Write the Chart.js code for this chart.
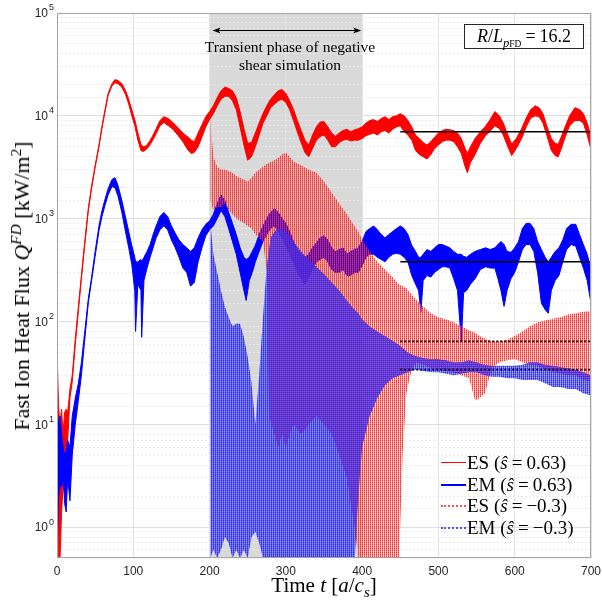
<!DOCTYPE html>
<html>
<head>
<meta charset="utf-8">
<script src="https://cdn.jsdelivr.net/npm/chart.js@4.4.1/dist/chart.umd.min.js"></script>
<style>
  html, body { margin: 0; padding: 0; background: #fff; }
  #wrap { position: relative; width: 602px; height: 600px; font-family: 'Liberation Serif', 'DejaVu Serif', serif; color: #000; }
  #chart { position: absolute; left: 0; top: 0; }
  .ov { position: absolute; white-space: nowrap; }
  sup, sub { font-size: 70%; line-height: 0; }
  .eq { margin: 0 4px; }
  #note { left: 190px; top: 38px; width: 200px; text-align: center; font-size: 15.5px; line-height: 17.5px; }
  #ratio { left: 464px; top: 24px; width: 120px; height: 25px; box-sizing: border-box; border: 1px solid #262626; background: #fff; text-align: center; font-size: 18px; line-height: 22px; }
  #ytitle { left: 22px; top: 286px; font-size: 22px; transform: translate(-50%, -50%) rotate(-90deg); }
  #xtitle { left: 324px; top: 585px; font-size: 21px; transform: translate(-50%, -50%); }
  #legend { left: 441px; top: 452px; font-size: 19px; }
  #legend .row { display: flex; align-items: center; height: 21.7px; }
  #legend .sw { width: 25px; height: 0; margin-right: 1px; }
</style>
</head>
<body>
<div id="wrap">
  <canvas id="chart" width="602" height="600"></canvas>
  <div class="ov" id="note">Transient phase of negative<br>shear simulation</div>
  <div class="ov" id="ratio"><i>R</i>/<i>L</i><sub><i>p</i><span style="font-size:75%">FD</span></sub><span class="eq">=</span>16.2</div>
  <div class="ov" id="ytitle">Fast Ion Heat Flux <i>Q</i><sup><i>FD</i></sup> [kW/m<sup>2</sup>]</div>
  <div class="ov" id="xtitle">Time <i>t</i> [<i>a</i>/<i>c<sub>s</sub></i>]</div>
  <div class="ov" id="legend">
    <div class="row"><span class="sw" style="border-top:1.5px solid #ff0000"></span>ES (<i>ŝ</i><span class="eq">=</span>0.63)</div>
    <div class="row"><span class="sw" style="border-top:2.5px solid #0000ff"></span>EM (<i>ŝ</i><span class="eq">=</span>0.63)</div>
    <div class="row"><span class="sw" style="border-top:2px dotted #ff5050"></span>ES (<i>ŝ</i><span class="eq">=</span>−0.3)</div>
    <div class="row"><span class="sw" style="border-top:2px dotted #5050ff"></span>EM (<i>ŝ</i><span class="eq">=</span>−0.3)</div>
  </div>
</div>
<script>
// ES, s_hat = 0.63 (upper / lower edge of the noisy trace)
const tEsPos = [0,2,4,6,8,10,12,14,17,20,
  24,28,32,36,41,45,50,55,59,63,
  67,72,76,80,85,90,94,98,102,106,
  110,113,117,121,125,130,135,140,146,152,
  159,165,172,176,180,185,190,195,200,205,
  210,215,220,225,230,235,240,245,250,255,
  260,265,270,275,280,285,290,295,300,305,
  310,315,320,325,330,335,340,345,350,355,
  360,365,370,375,380,385,390,395,400,405,
  410,415,420,425,430,435,440,445,450,455,
  460,465,470,475,480,485,490,495,500,505,
  510,515,520,525,530,535,538,542,548,555,
  561,567,574,580,585,590,596,602,609,615,
  621,627,632,637,642,648,653,657,662,666,
  672,679,685,690,695,700];
const esPosHi = [57,15,10,14,8,13,14,13,22,30,
  68,140,280,560,1250,2000,3300,5200,8000,11500,
  16500,20500,22500,22000,20500,17500,14500,11500,9200,6800,
  5300,5000,5100,5600,6300,7500,9000,9800,9400,8600,
  7600,6800,6200,5800,5600,6800,8200,9800,11000,12500,
  15000,17500,19000,18500,17500,15000,11000,7500,5400,5500,
  6800,8500,10500,12500,14500,16000,17500,18000,16500,14000,
  11500,9000,7200,5800,5200,6500,7800,8700,8800,7800,
  6800,6300,6800,7200,7400,7000,7300,7500,7800,8500,
  9000,9200,8800,9400,9800,9200,9800,10000,10500,10000,
  9000,7800,6500,6000,5500,5200,5600,6200,6800,7200,
  7400,7300,7200,6800,6000,4800,4300,5000,6000,7000,
  7800,9000,11000,10000,8500,6800,5300,6000,7500,9500,
  11500,12500,12000,10500,8000,6000,5400,5300,6500,7800,
  10000,12000,11500,10500,8500,6300];
const esPosLo = [4,0.4,0.5,1.4,2.5,4,6,7,18,26,
  60,125,260,520,1180,1900,3150,5000,7600,11000,
  15800,19500,21000,20500,19000,16000,13000,10000,8000,5800,
  4600,4500,4700,5100,5700,6700,8000,8600,8000,7400,
  6400,5600,4600,4300,4400,5000,6200,7800,9200,10500,
  12500,14500,15500,15500,14000,11500,7800,5200,3700,4000,
  5000,6500,8500,10000,12000,13000,14000,14500,13500,11500,
  9000,7000,5500,4400,4000,4800,5800,6300,6500,5800,
  5000,5000,5500,5800,5900,5700,5800,5800,6000,6400,
  6600,6800,6500,7000,7200,6800,7400,7800,8000,7000,
  6500,5800,4600,4200,4000,3800,4200,4800,5200,5600,
  5800,5800,5600,5000,4300,3200,2800,3500,4200,5400,
  6300,7000,8000,7500,6500,5200,4100,4800,6000,7800,
  9500,10000,9800,8500,6500,4600,4100,4000,5000,6200,
  8000,9000,9000,8500,6500,4700];

// EM, s_hat = 0.63
const tEmPos = [0,2,4,6,8,10,12,14,17,20,
  24,28,32,36,41,45,50,55,59,63,
  67,72,76,80,85,89,94,98,102,103,
  106,110,111,114,118,122,126,130,135,140,
  145,150,155,160,165,170,175,180,185,190,
  195,200,205,210,215,220,225,230,235,240,
  245,248,252,256,260,265,270,275,280,285,
  290,295,300,305,310,315,320,325,330,335,
  340,345,350,355,360,365,370,375,380,385,
  390,395,400,405,410,415,420,425,430,435,
  440,445,450,455,460,465,470,474,477,480,
  485,490,495,500,505,510,515,520,525,530,
  533,537,542,548,555,562,568,574,578,582,
  586,590,595,600,605,610,615,620,625,630,
  635,640,644,648,653,658,663,668,674,680,
  685,690,695,700];
const emPosHi = [14,10,12,8,6,5,5.5,7,6,12,
  18,25,40,75,165,260,480,850,1200,1550,
  1950,2400,2500,2100,1500,1100,750,550,420,380,
  380,400,380,420,480,560,700,850,1050,1150,
  1050,850,720,620,560,520,480,520,650,780,
  880,950,1100,1400,1700,1500,1150,900,700,520,
  420,400,420,480,550,700,850,1000,1150,1250,
  1150,1000,900,750,600,500,450,420,450,520,
  580,650,680,620,520,480,500,520,450,480,
  500,520,600,750,800,850,780,700,650,700,
  750,800,850,800,700,550,480,420,420,450,
  500,480,520,560,560,540,520,480,450,450,
  430,420,450,480,500,520,500,520,560,600,
  560,480,470,520,600,800,900,900,800,600,
  500,420,380,420,480,520,620,800,880,880,
  700,560,450,320];
const emPosLo = [0.5,2,2.5,2.5,3,1.7,1.4,3,1.8,5,
  10,17,30,62,150,240,430,760,1050,1350,
  1700,2050,2000,1650,1150,800,520,360,200,80,
  230,200,70,250,330,420,520,650,780,850,
  780,620,520,420,330,300,220,240,380,520,
  680,780,850,1000,1200,1050,800,600,450,300,
  200,160,250,300,380,480,600,700,800,850,
  750,650,550,450,380,300,260,230,270,320,
  380,400,420,380,320,300,300,320,280,280,
  300,300,350,420,450,450,420,400,380,420,
  450,460,450,420,380,280,230,200,123,250,
  280,270,300,320,340,340,330,260,200,63,
  190,200,230,260,320,340,330,330,260,200,
  140,200,260,300,380,500,560,560,480,300,
  150,130,120,200,250,280,380,500,560,540,
  420,330,250,150];

// ES, s_hat = -0.3 (restarted at t = 200)
const tEsNeg = [201,205,210,215,220,225,230,235,240,245,
  250,255,260,265,270,275,278,285,290,295,
  300,305,310,320,330,340,350,360,370,380,
  390,395,400,410,420,430,440,448,453,458,
  463,470,480,490,500,510,520,530,540,548,
  554,561,570,580,590,600,610,620,630,640,
  650,660,670,680,690,700];
const esNegHi = [9000,4000,3200,3000,3000,2900,2800,2600,2500,2400,
  2300,2500,2800,3000,3200,3400,3500,3700,3900,4200,
  4400,4000,3600,3300,3000,2800,2300,1800,1400,1100,
  850,750,620,480,380,320,270,230,220,210,
  190,165,140,120,110,105,98,90,82,78,
  72,68,64,64,66,72,80,90,98,102,
  106,110,117,120,124,126];
const esNegLo = [1500,1200,1300,1300,1400,1200,1100,1000,950,900,
  850,800,700,650,600,300,12,8,6,8,
  6,8,10,8,10,12,10,8,5,3,
  1,0.5,0.4,0.4,0.4,0.4,0.4,0.4,5,20,
  30,40,38,35,34,33,32,30,28,17,
  18,20,35,40,42,43,40,38,37,34,
  32,31,30,30,27,26];

// EM, s_hat = -0.3
const tEmNeg = [201,205,210,215,220,225,230,235,240,245,
  250,255,260,265,270,275,280,285,290,295,
  300,310,320,330,340,350,360,370,380,390,
  395,400,410,420,430,440,450,460,470,480,
  490,500,510,520,530,540,550,560,570,580,
  590,600,610,620,630,640,650,660,670,680,
  690,700];
const emNegHi = [900,450,300,200,140,110,90,95,95,70,
  45,25,10,30,110,350,650,750,800,800,
  750,600,480,400,340,290,240,200,160,130,
  120,105,90,80,72,65,58,50,46,44,
  43,43,42,40,40,42,40,38,37,37,
  37,37,38,40,40,38,37,36,35,34,
  32,30];
const emNegLo = [0.5,0.6,0.5,0.6,0.8,0.7,0.5,0.6,0.5,0.6,
  0.5,0.8,0.9,0.7,0.5,0.5,0.5,0.45,0.45,0.45,
  0.45,0.45,0.45,0.45,0.45,0.45,0.45,0.45,0.45,0.45,
  2,6,12,18,24,28,30,32,34,33,
  32,32,31,30,31,32,32,30,29,29,
  28,28,27,27,27,25,23,23,22,22,
  20,19];

// time averages over the saturated phase
const meanT = [450, 700];
const meanEsPos = 7000;
const meanEmPos = 380;
const meanEsNeg = 64;
const meanEmNeg = 34;

const phase = [200, 400];
const arrowLevel = 6.8e4;
const yExponents = [0, 1, 2, 3, 4, 5];
const xTicks = [0, 100, 200, 300, 400, 500, 600, 700];

function pts(ts, vs) {
  return ts.map((t, i) => ({ x: t, y: vs[i] }));
}

// dense vertical dots, like the many dotted strokes of the negative shear runs;
// the two colours sit in different pixel columns so both stay visible where they overlap
function hatch(rgb, col, alphas) {
  const c = document.createElement('canvas');
  c.width = 2;
  c.height = 2;
  const g = c.getContext('2d');
  [[col, 0], [col, 1], [1 - col, 0], [1 - col, 1]].forEach(([px, py], i) => {
    g.fillStyle = `rgba(${rgb},${alphas[i]})`;
    g.fillRect(px, py, 1, 1);
  });
  return g.createPattern(c, 'repeat');
}

function band(ts, hi, lo, line, fillStyle, width, order) {
  return [
    { data: pts(ts, hi), borderColor: line, borderWidth: width, backgroundColor: fillStyle, fill: '+1', order },
    { data: pts(ts, lo), borderColor: line, borderWidth: width, fill: false, order },
  ];
}

function flat(value, dash) {
  return {
    data: meanT.map(t => ({ x: t, y: value })),
    borderColor: '#000',
    borderWidth: 1.6,
    borderDash: dash,
    fill: false,
    order: 0,
  };
}

const datasets = [
  ...band(tEsPos, esPosHi, esPosLo, '#ff0000', '#ff0000', 1, 4),
  ...band(tEmPos, emPosHi, emPosLo, '#0000ff', '#0000ff', 1, 3),
  ...band(tEsNeg, esNegHi, esNegLo, 'rgba(0,0,0,0)', hatch('255,45,45', 0, [1, 0.7, 0.28, 0.1]), 0.01, 2),
  ...band(tEmNeg, emNegHi, emNegLo, 'rgba(0,0,0,0)', hatch('45,45,255', 1, [1, 0.85, 0.65, 0.4]), 0.01, 1),
  flat(meanEsPos, []),
  flat(meanEmPos, []),
  flat(meanEsNeg, [2, 2]),
  flat(meanEmNeg, [2, 2]),
];

function isDecade(v) {
  const e = Math.round(Math.log10(v));
  return Math.abs(v - Math.pow(10, e)) < 1e-9 * Math.pow(10, e);
}

const decor = {
  id: 'decor',
  beforeDraw(chart) {
    const { ctx, chartArea: a, scales: { x } } = chart;
    const x0 = x.getPixelForValue(phase[0]);
    const x1 = x.getPixelForValue(phase[1]);
    ctx.save();
    ctx.fillStyle = '#d9d9d9';
    ctx.fillRect(x0, a.top, x1 - x0, a.bottom - a.top);
    ctx.restore();
  },
  afterDatasetsDraw(chart) {
    const { ctx, scales: { x, y } } = chart;
    const x0 = x.getPixelForValue(phase[0]) + 3;
    const x1 = x.getPixelForValue(phase[1]) - 1;
    const yy = Math.round(y.getPixelForValue(arrowLevel)) + 0.5;
    ctx.save();
    ctx.strokeStyle = '#000';
    ctx.fillStyle = '#000';
    ctx.lineWidth = 1;
    ctx.beginPath();
    ctx.moveTo(x0 + 4, yy);
    ctx.lineTo(x1 - 4, yy);
    ctx.stroke();
    [[x0, 1], [x1, -1]].forEach(([px, dir]) => {
      ctx.beginPath();
      ctx.moveTo(px, yy);
      ctx.lineTo(px + dir * 8, yy - 3);
      ctx.lineTo(px + dir * 6, yy);
      ctx.lineTo(px + dir * 8, yy + 3);
      ctx.closePath();
      ctx.fill();
    });
    ctx.restore();
  },
  afterDraw(chart) {
    const { ctx, chartArea: a, scales: { y } } = chart;
    ctx.save();
    ctx.strokeStyle = '#a6a6a6';
    ctx.lineWidth = 1;
    ctx.strokeRect(a.left + 0.5, a.top + 0.5, a.right - a.left - 1, a.bottom - a.top - 1);
    ctx.fillStyle = '#262626';
    yExponents.forEach(e => {
      const py = y.getPixelForValue(Math.pow(10, e));
      ctx.font = '12px "Liberation Sans", Arial, sans-serif';
      ctx.textAlign = 'right';
      ctx.textBaseline = 'middle';
      ctx.fillText('10', a.left - 9, py + 1);
      ctx.font = '9px "Liberation Sans", Arial, sans-serif';
      ctx.textAlign = 'left';
      ctx.fillText(String(e), a.left - 8, py - 5);
    });
    ctx.restore();
  },
};

new Chart(document.getElementById('chart'), {
  type: 'line',
  data: { datasets },
  options: {
    responsive: false,
    animation: false,
    events: [],
    layout: { padding: { top: 13, right: 11, left: 0, bottom: 0 } },
    plugins: { legend: { display: false }, tooltip: { enabled: false } },
    elements: { point: { radius: 0 }, line: { tension: 0 } },
    scales: {
      x: {
        type: 'linear',
        min: xTicks[0],
        max: xTicks[xTicks.length - 1],
        afterBuildTicks(s) { s.ticks = xTicks.map(v => ({ value: v })); },
        ticks: { color: '#262626', font: { family: 'Liberation Sans', size: 12 }, padding: 6, maxRotation: 0 },
        grid: { color: '#e3e3e3', drawTicks: false },
        border: { display: false },
        afterFit(s) {
          s.height = 42;
          s.paddingLeft = 0;
          s.paddingRight = 0;
        },
      },
      y: {
        type: 'logarithmic',
        min: 0.5,
        max: 1e5,
        ticks: { display: false },
        grid: {
          drawTicks: false,
          color: ctx => (ctx.tick && isDecade(ctx.tick.value)) ? '#dedede' : '#e9e9e9',
        },
        border: {
          display: false,
          dash: ctx => (ctx.tick && isDecade(ctx.tick.value)) ? [] : [2, 2],
        },
        afterFit(s) { s.width = 57; },
      },
    },
  },
  plugins: [decor],
});
</script>
</body>
</html>
